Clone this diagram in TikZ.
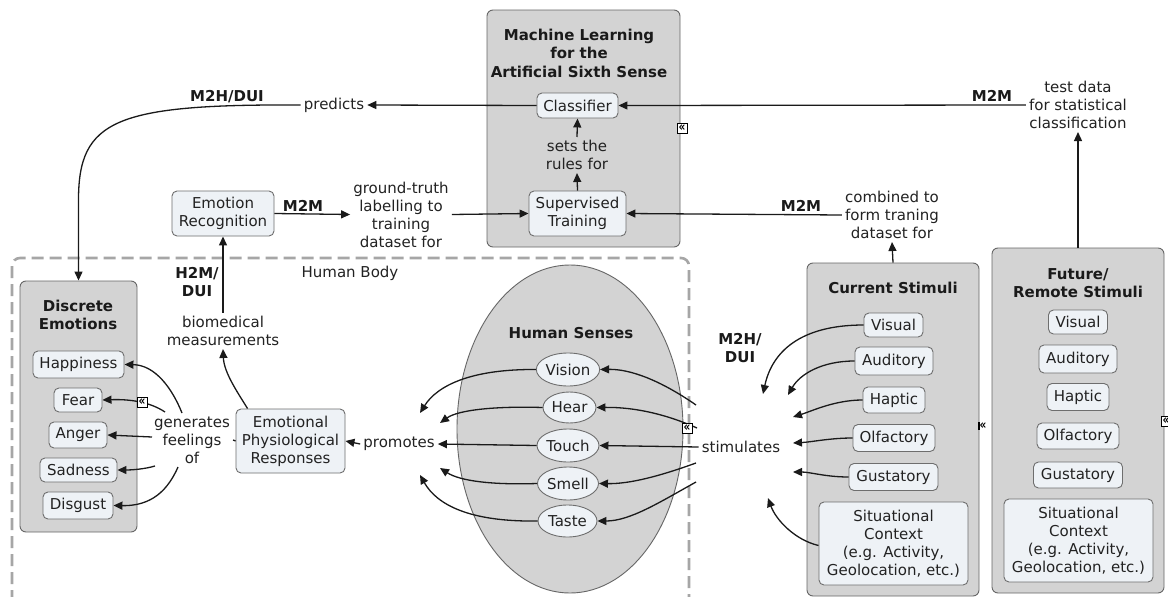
\documentclass[tikz,border=0pt]{standalone}
\usepackage{fontspec}
\usepackage{graphicx}
\setmainfont{DejaVu Sans}
\usetikzlibrary{arrows.meta,shapes.geometric,calc}

\definecolor{groupfill}{HTML}{D3D3D3}
\definecolor{groupline}{HTML}{666666}
\definecolor{conceptfill}{HTML}{EEF2F6}
\definecolor{conceptline}{HTML}{6E6E6E}
\definecolor{bodyline}{HTML}{A6A6A6}
\definecolor{ink}{HTML}{1A1A1A}
\definecolor{txt}{HTML}{222222}

\newcommand{\foldmark}{\scalebox{1.5}[1.9]{«}}

\tikzset{
  basefont/.style={font=\fontsize{15}{18}\selectfont, text=txt},
  group/.style={draw=groupline, fill=groupfill, rounded corners=6pt, line width=0.9pt},
  concept/.style={basefont, draw=conceptline, fill=conceptfill, rounded corners=5pt,
    line width=0.9pt, align=center, inner sep=1pt},
  sense/.style={basefont, ellipse, draw=conceptline, fill=conceptfill, line width=0.9pt,
    inner sep=0pt},
  linkphrase/.style={basefont, align=center, inner sep=3pt},
  grouptitle/.style={font=\fontsize{15}{18.5}\selectfont\bfseries, text=ink, align=center},
  tag/.style={font=\fontsize{15}{18}\selectfont\bfseries, text=ink, align=center},
  arr/.style={draw=ink, line width=1.3pt, -{Triangle[length=9pt,width=8pt]}},
  plain/.style={draw=ink, line width=1.3pt},
  icon/.style={draw=black, fill=white, line width=0.7pt, inner sep=0pt,
    minimum width=10pt, minimum height=10pt, font=\fontsize{7}{7}\selectfont\bfseries},
}

\begin{document}
\begin{tikzpicture}[x=1pt,y=-1pt]
\clip (0,0) rectangle (1168,597);
\fill[white] (0,0) rectangle (1168,597);

% ---------- Human body region ----------
\draw[bodyline, line width=2.6pt, dash pattern=on 12pt off 6pt, rounded corners=8pt]
  (12,620) -- (12,258) -- (689,258) -- (689,620);
\node[basefont] (hb) at (350,273) {Human Body};

% ---------- machine learning group ----------
\node[group, minimum width=193, minimum height=237] (ml) at (583.5,128.5) {};
\node[grouptitle] (mlt) at (579,53) {Machine Learning\\for the\\Artificial Sixth Sense};
\node[concept, minimum width=81, minimum height=25] (cls) at (577.5,105.5) {Classifier};
\node[linkphrase] (rules) at (577,155) {sets the\\rules for};
\node[concept, minimum width=97, minimum height=45] (sup) at (577.5,213.5) {Supervised\\Training};

% ---------- upper link phrases ----------
\node[linkphrase] (pred) at (334,105) {predicts};
\node[tag] (t1) at (227,97) {M2H/DUI};
\node[concept, minimum width=102, minimum height=45] (er) at (223,213.5) {Emotion\\Recognition};
\node[tag] (t2) at (303,206) {M2M};
\node[linkphrase] (gt) at (401,214.5) {ground-truth\\labelling to\\training\\dataset for};
\node[linkphrase] (test) at (1078,105) {test data\\for statistical\\classification};
\node[tag] (t3) at (992,96) {M2M};
\node[linkphrase] (comb) at (892,215) {combined to\\form traning\\dataset for};
\node[tag] (t4) at (801,206) {M2M};

% ---------- discrete emotions ----------
\node[group, minimum width=117, minimum height=251] (de) at (78.5,406.5) {};
\node[grouptitle] (det) at (78,315) {Discrete\\Emotions};
\node[concept, minimum width=91, minimum height=27] (hap) at (78.5,364.5) {Happiness};
\node[concept, minimum width=48, minimum height=24] (fear) at (78,400) {Fear};
\node[concept, minimum width=58, minimum height=26] (ang) at (78,435) {Anger};
\node[concept, minimum width=77, minimum height=24] (sad) at (78.5,470) {Sadness};
\node[concept, minimum width=70, minimum height=27] (dis) at (78,505.5) {Disgust};

\node[linkphrase] (gen) at (192,440) {generates\\feelings\\of};
\node[concept, minimum width=109, minimum height=64] (epr) at (290.5,441) {Emotional\\Physiological\\Responses};
\node[linkphrase] (bio) at (223,331) {biomedical\\measurements};
\node[tag] (t5) at (197,282) {H2M/\\DUI};
\node[linkphrase] (prom) at (399,444) {promotes};

% ---------- human senses ----------
\node[ellipse, draw=groupline, fill=groupfill, line width=0.9pt,
  minimum width=226, minimum height=328] (hs) at (570,429) {};
\node[grouptitle] (hst) at (571,333) {Human Senses};
\node[sense, minimum width=62, minimum height=33] (vis) at (568,369.5) {Vision};
\node[sense, minimum width=53, minimum height=31] (hear) at (569.5,407.5) {Hear};
\node[sense, minimum width=62, minimum height=33] (touch) at (568,445.5) {Touch};
\node[sense, minimum width=61, minimum height=33] (smell) at (568,483.5) {Smell};
\node[sense, minimum width=59, minimum height=32] (taste) at (567.5,521) {Taste};

\node[linkphrase] (stim) at (741,447) {stimulates};
\node[tag] (t6) at (740,348) {M2H/\\DUI};

% ---------- current stimuli ----------
\node[group, minimum width=172, minimum height=333] (cur) at (893,429.5) {};
\node[grouptitle] (curt) at (893,288) {Current Stimuli};
\node[concept, minimum width=59, minimum height=24] (cvis) at (893.5,325) {Visual};
\node[concept, minimum width=78, minimum height=28] (caud) at (894,361) {Auditory};
\node[concept, minimum width=62, minimum height=26] (chap) at (894,400) {Haptic};
\node[concept, minimum width=82, minimum height=27] (colf) at (894,438) {Olfactory};
\node[concept, minimum width=89, minimum height=27] (cgus) at (893.5,477) {Gustatory};
\node[concept, minimum width=149, minimum height=83] (csit) at (893.5,543.5)
  {Situational\\Context\\(e.g. Activity,\\Geolocation, etc.)};

% ---------- future / remote stimuli ----------
\node[group, minimum width=172, minimum height=345] (fut) at (1078,420.5) {};
\node[grouptitle] (futt) at (1078,283) {Future/\\Remote Stimuli};
\node[concept, minimum width=59, minimum height=24] (fvis) at (1078,322) {Visual};
\node[concept, minimum width=78, minimum height=28] (faud) at (1078,359) {Auditory};
\node[concept, minimum width=62, minimum height=27] (fhap) at (1078,397) {Haptic};
\node[concept, minimum width=82, minimum height=26] (folf) at (1078,436) {Olfactory};
\node[concept, minimum width=89, minimum height=26] (fgus) at (1078,475) {Gustatory};
\node[concept, minimum width=149, minimum height=83] (fsit) at (1078.5,540.5)
  {Situational\\Context\\(e.g. Activity,\\Geolocation, etc.)};

% ---------- free ends of the fanned connectors ----------
\coordinate (g1) at (182,413);
\coordinate (g2) at (165,412);
\coordinate (g3) at (152,437);
\coordinate (g4) at (155,466);
\coordinate (g5) at (178,467);
\coordinate (s1) at (696,405);
\coordinate (s2) at (697,428);
\coordinate (s4) at (696,463);
\coordinate (s5) at (696,482);
\coordinate (p1) at (420,413);
\coordinate (p2) at (440,423);
\coordinate (p4) at (440,468);
\coordinate (p5) at (420,475);
\coordinate (k1) at (763,394);
\coordinate (k2) at (788,395);
\coordinate (k3) at (793,417);
\coordinate (k4) at (793,443);
\coordinate (k5) at (793,472);
\coordinate (k6) at (768,498);

% ---------- connectors: machine learning ----------
\draw[arr] (cls.west) -- (pred.east);
\draw[arr] (pred.west) .. controls (115,104) and (78.5,120) .. (78.5,200) -- (de.north);
\draw[arr] (er.east) -- (gt.west);
\draw[arr] (gt.east) -- (sup.west);
\draw[arr] (sup.north) -- (rules.south);
\draw[arr] (rules.north) -- (cls.south);
\draw[arr] (test.west) -- (cls.east);
\draw[arr] (comb.west) -- (sup.east);
\draw[arr] (cur.north) -- (comb.south);
\draw[arr] (fut.north) -- (test.south);

% ---------- connectors: human body ----------
\draw[arr] (bio.north) -- (er.south);
\draw[arr] ($(epr.north west)+(12,0)$) .. controls (236,390) and (224,372) .. (bio.south);
\draw[arr] (prom.west) -- (epr.east);
\draw[plain] (epr.west) -- (gen.east);
\draw[arr] (g1) .. controls (172,388) and (155,365) .. (hap.east);
\draw[arr] (g2) .. controls (150,402) and (130,399) .. (fear.east);
\draw[arr] (g3) -- (ang.east);
\draw[arr] (g4) .. controls (145,469) and (132,470) .. (sad.east);
\draw[arr] (g5) .. controls (165,497) and (145,506) .. (dis.east);

% senses
\draw[arr] (s1) .. controls (660,380) and (630,369) .. (vis.east);
\draw[arr] (s2) .. controls (668,415) and (636,407) .. (hear.east);
\draw[arr] (stim.west) -- (touch.east);
\draw[arr] (s4) .. controls (660,476) and (630,484) .. (smell.east);
\draw[arr] (s5) .. controls (660,502) and (630,521) .. (taste.east);
\draw[arr] (vis.west) .. controls (470,369) and (437,386) .. (p1);
\draw[arr] (hear.west) .. controls (495,406) and (458,410) .. (p2);
\draw[arr] (touch.west) -- (prom.east);
\draw[arr] (smell.west) .. controls (492,485) and (460,481) .. (p4);
\draw[arr] (taste.west) .. controls (470,522) and (437,505) .. (p5);

% stimuli
\draw[arr] (cvis.west) .. controls (800,325) and (772,352) .. (k1);
\draw[arr] (caud.west) .. controls (822,361) and (800,374) .. (k2);
\draw[arr] (chap.west) .. controls (835,400) and (812,411) .. (k3);
\draw[arr] (colf.west) .. controls (830,438) and (812,442) .. (k4);
\draw[arr] (cgus.west) .. controls (826,477) and (810,472) .. (k5);
\draw[arr] ($(csit.west)+(0,2)$) .. controls (795,540) and (776,520) .. (k6);

% ---------- collapse markers ----------
\node[icon] (ic1) at (682,128) {\foldmark};
\node[icon] (ic2) at (142,402) {\foldmark};
\node[icon] (ic3) at (687,428) {\foldmark};
\node[font=\fontsize{7}{7}\selectfont\bfseries, inner sep=0.5pt] (ic4) at (983,426) {\foldmark};
\draw[black, line width=1.2pt] (ic4.north west) -- (ic4.south west);
\node[icon] (ic5) at (1166,421) {\foldmark};
\end{tikzpicture}
\end{document}
